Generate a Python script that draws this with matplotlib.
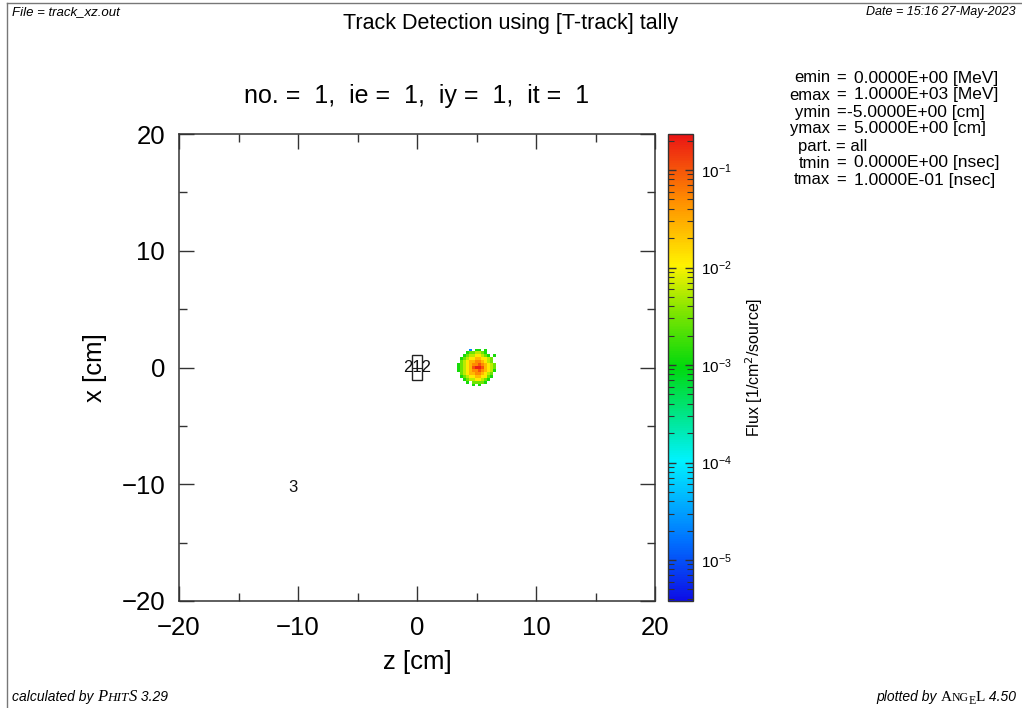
import numpy as np
import matplotlib.pyplot as plt
from matplotlib.colors import LinearSegmentedColormap, LogNorm
from matplotlib.patches import Rectangle

plt.rcParams['font.family'] = ['Liberation Sans', 'DejaVu Sans']

W, H = 1022, 708

# mesh of the flux spot (0.25 cm bins around z = 5, x = 0); rows run from +x to -x
spot_z0 = 5.0
spot_x0 = 0.0
spot_dz = 0.25
spot_rows = [
    "....0.22.2...",
    "...2334432...",
    "..234455432.2",
    ".23455665543.",
    ".34566776543.",
    "2345677876543",
    "2345689986543",
    "2345677876542",
    ".34566776543.",
    ".23455665532.",
    "..234455432..",
    "...2.33332...",
    ".....2.2.....",
]
# flux level [1/cm^2/source] of each code in the mesh
flux_levels = {'0': 2e-5, '1': 4e-4, '2': 1.2e-3, '3': 3e-3, '4': 6e-3,
               '5': 1.2e-2, '6': 2.5e-2, '7': 5e-2, '8': 1e-1, '9': 2e-1}

# region numbers drawn on the geometry
region_labels = ['212', '3']
region_pos = [(0.0, 0.0), (-10.4, -10.3)]

param_names = ['emin', 'emax', 'ymin', 'ymax', 'part.', 'tmin', 'tmax']
param_values = ['0.0000E+00 [MeV]', '1.0000E+03 [MeV]', '-5.0000E+00 [cm]',
                '5.0000E+00 [cm]', 'all', '0.0000E+00 [nsec]', '1.0000E-01 [nsec]']

vmin, vmax = 3.8e-6, 0.234

cmap = LinearSegmentedColormap.from_list('phits', [
    (0.00, (0.05, 0.05, 0.90)),
    (0.13, (0.00, 0.45, 1.00)),
    (0.30, (0.00, 0.95, 1.00)),
    (0.50, (0.00, 0.85, 0.05)),
    (0.62, (0.50, 0.90, 0.00)),
    (0.72, (1.00, 0.95, 0.00)),
    (0.86, (1.00, 0.55, 0.00)),
    (1.00, (0.92, 0.08, 0.08)),
])
norm = LogNorm(vmin=vmin, vmax=vmax)

fig = plt.figure(figsize=(W / 100, H / 100), dpi=100)

ax = fig.add_axes([179 / W, 107 / H, 476 / W, 467 / H])
cax = fig.add_axes([668 / W, 107 / H, 25 / W, 467 / H])

# build the flux grid from the code rows
nrow = len(spot_rows)
ncol = len(spot_rows[0])
flux = np.full((nrow, ncol), np.nan)
for i, row in enumerate(spot_rows):
    for j, ch in enumerate(row):
        if ch in flux_levels:
            flux[nrow - 1 - i, j] = flux_levels[ch]
flux = np.ma.masked_invalid(flux)
z_edges = spot_z0 + (np.arange(ncol + 1) - ncol / 2) * spot_dz
x_edges = spot_x0 + (np.arange(nrow + 1) - nrow / 2) * spot_dz
mesh = ax.pcolormesh(z_edges, x_edges, flux, cmap=cmap, norm=norm)

# geometry outline
ax.add_patch(Rectangle((-0.4, -1.1), 0.8, 2.2, fill=False, ec='#222222', lw=1.0))
ax.plot([-0.4, 0.4], [0.0, 0.0], color='#222222', lw=0.8)
for lab, (zz, xx) in zip(region_labels, region_pos):
    ax.text(zz, xx, lab, fontsize=12, ha='center', va='center', color='#111111')

ax.set_xlim(-20, 20)
ax.set_ylim(-20, 20)
ax.set_xticks(range(-20, 21, 10))
ax.set_yticks(range(-20, 21, 10))
ax.set_xticks(range(-15, 20, 10), minor=True)
ax.set_yticks(range(-15, 20, 10), minor=True)
ax.set_xticklabels(['\u221220', '\u221210', '0', '10', '20'])
ax.set_yticklabels(['\u221220', '\u221210', '0', '10', '20'])
ax.tick_params(which='both', direction='in', top=True, right=True,
               labelsize=18.5, color='#333333', width=1.0)
ax.tick_params(axis='x', pad=11)
ax.tick_params(axis='y', pad=10)
ax.tick_params(which='major', length=11)
ax.tick_params(which='minor', length=6)
for sp in ax.spines.values():
    sp.set_linewidth(1.1)
    sp.set_color('#333333')
ax.set_xlabel('z [cm]', fontsize=18.5, labelpad=7)
ax.set_ylabel('x [cm]', fontsize=18.5, labelpad=10)
ax.set_title('no. =  1,  ie =  1,  iy =  1,  it =  1', fontsize=18, pad=22)

cb = fig.colorbar(mesh, cax=cax)
cb.outline.set_linewidth(1.0)
cb.outline.set_edgecolor('#333333')
cax.tick_params(which='both', direction='in', left=True, right=True,
                color='#333333', labelsize=11, pad=6)
cax.tick_params(which='major', length=6, width=1.0)
cax.tick_params(which='minor', length=4, width=0.8)
cb.set_label('Flux [1/cm$^2$/source]', fontsize=11.5, labelpad=8)


def chain(pieces, x, y, ha='left'):
    """Write text pieces of mixed size and font on one baseline (x, y in px)."""
    r = fig.canvas.get_renderer()
    arts = []
    for txt, size, fam, style, dy in pieces:
        t = fig.text(0, 0, txt, fontsize=size, family=fam, style=style,
                     ha='left', va='baseline')
        arts.append((t, dy))
    widths = [t.get_window_extent(r).width for t, _ in arts]
    cur = x if ha == 'left' else x - sum(widths)
    for (t, dy), w in zip(arts, widths):
        t.set_position((cur / W, 1 - (y + dy) / H))
        cur += w


sans = ['Liberation Sans', 'DejaVu Sans']
serif = ['Liberation Serif', 'DejaVu Serif']

# header and footer
fig.text(12 / W, 1 - 12 / H, 'File = track_xz.out', fontsize=9.5,
         style='italic', ha='left', va='center')
fig.text(511 / W, 1 - 23 / H, 'Track Detection using [T-track] tally',
         fontsize=15.5, ha='center', va='center')
fig.text(1016 / W, 1 - 12 / H, 'Date = 15:16 27-May-2023', fontsize=9,
         style='italic', ha='right', va='center')
chain([('calculated by ', 10, sans, 'italic', 0),
       ('P', 12, serif, 'italic', 0),
       ('HIT', 9.5, serif, 'italic', 0),
       ('S', 12, serif, 'italic', 0),
       (' 3.29', 10, sans, 'italic', 0)], 12, 701)
chain([('plotted by ', 10, sans, 'italic', 0),
       ('A', 11, serif, 'normal', 0),
       ('NG', 8.5, serif, 'normal', 0),
       ('E', 8.5, serif, 'normal', 3),
       ('L', 11, serif, 'normal', 0),
       (' 4.50', 10, sans, 'italic', 0)], 1016, 701, ha='right')

# page frame
fig.add_artist(plt.Line2D([7 / W, 1], [1 - 3 / H, 1 - 3 / H],
                          color='#777777', lw=1.0))
fig.add_artist(plt.Line2D([7 / W, 7 / W], [0, 1 - 3 / H],
                          color='#777777', lw=1.0))

# tally parameters
y0 = 78
dy = 17
for k, (name, val) in enumerate(zip(param_names, param_values)):
    yy = 1 - (y0 + k * dy) / H
    if name == 'part.':
        fig.text(798 / W, yy, name + ' = ' + val, fontsize=12,
                 ha='left', va='center')
        continue
    fig.text(830 / W, yy, name, fontsize=12, ha='right', va='center')
    fig.text(841 / W, yy, '=', fontsize=12, ha='center', va='center')
    xv = 847 if val.startswith('-') else 854
    fig.text(xv / W, yy, val, fontsize=12.5, ha='left', va='center')

fig.savefig('out.png', dpi=100)
